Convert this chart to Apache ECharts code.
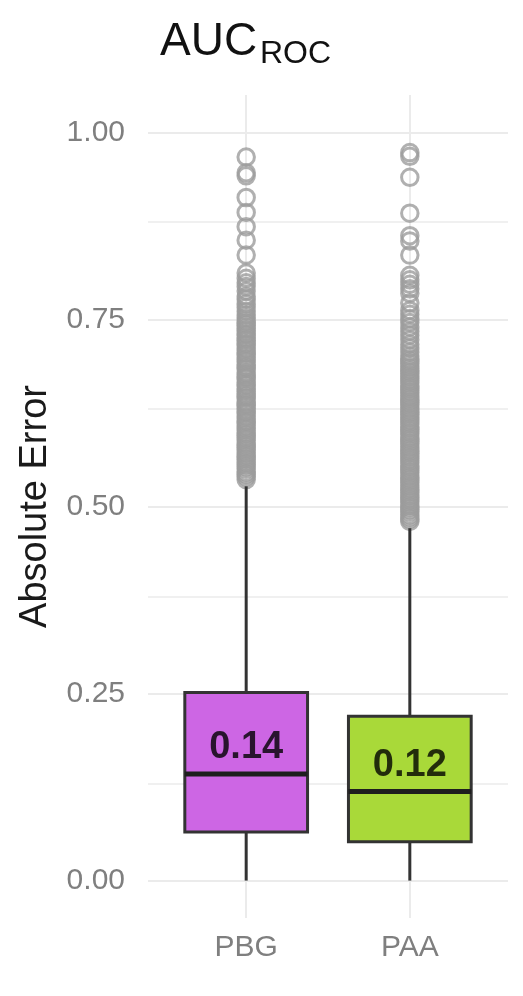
<!DOCTYPE html>
<html><head><meta charset="utf-8">
<script src="https://cdn.jsdelivr.net/npm/echarts@6/dist/echarts.min.js"></script>
<style>html,body{margin:0;padding:0;background:#fff}#c{width:523px;height:996px}</style>
</head><body><div id="c"></div>
<script>
// ---- data ----
const categories = ['PBG', 'PAA'];
const whiskerLow = [0.0, 0.0];
const q1 = [0.065, 0.052];
const median = [0.1426, 0.119];
const q3 = [0.2515, 0.2195];
const whiskerHigh = [0.527, 0.471];
const yTicks = [0, 0.25, 0.5, 0.75, 1];
const yMinorTicks = [0.125, 0.375, 0.625, 0.875];
const outliersPBG = [
  0.967, 0.946, 0.942, 0.913, 0.893, 0.874, 0.856, 0.836,
  0.812, 0.805, 0.799, 0.794, 0.788, 0.781, 0.777, 0.771, 0.766, 0.761, 0.756, 0.752,
  0.748, 0.745, 0.742, 0.738, 0.735, 0.731, 0.729, 0.725, 0.722, 0.718, 0.716, 0.712,
  0.709, 0.705, 0.703, 0.699, 0.696, 0.693, 0.689, 0.686, 0.684, 0.679, 0.676, 0.673,
  0.671, 0.666, 0.663, 0.661, 0.657, 0.654, 0.650, 0.647, 0.645, 0.640, 0.637, 0.635,
  0.631, 0.627, 0.625, 0.621, 0.618, 0.614, 0.612, 0.608, 0.605, 0.602, 0.598, 0.595,
  0.592, 0.589, 0.585, 0.582, 0.579, 0.576, 0.572, 0.569, 0.566, 0.563, 0.559, 0.556,
  0.553, 0.550, 0.546, 0.543, 0.540, 0.536
];
const outliersPAA = [
  0.973, 0.968, 0.940, 0.892, 0.862, 0.855, 0.836, 0.809, 0.803, 0.797, 0.791, 0.785, 0.772,
  0.762, 0.757, 0.751, 0.746, 0.740, 0.734, 0.729, 0.723, 0.717, 0.712, 0.706, 0.701,
  0.697, 0.694, 0.691, 0.687, 0.684, 0.681, 0.678, 0.674, 0.671, 0.668, 0.665, 0.661,
  0.658, 0.655, 0.652, 0.648, 0.645, 0.642, 0.639, 0.636, 0.632, 0.629, 0.626, 0.623,
  0.619, 0.616, 0.613, 0.610, 0.606, 0.603, 0.600, 0.597, 0.593, 0.590, 0.587, 0.584,
  0.580, 0.577, 0.574, 0.571, 0.567, 0.564, 0.561, 0.558, 0.554, 0.551, 0.548, 0.545,
  0.541, 0.538, 0.535, 0.532, 0.528, 0.525, 0.522, 0.519, 0.515, 0.512, 0.509, 0.506,
  0.502, 0.499, 0.496, 0.493, 0.489, 0.486, 0.483, 0.480
];

// ---- styles ----
const boxColors = ['#CD66E4', '#A9D939'];
const FONT = '"Liberation Sans", Arial, Helvetica, sans-serif';
const GRID_COLOR = '#ebebeb';

const boxData = categories.map((c, i) => [i + 1, whiskerLow[i], q1[i], median[i], q3[i], whiskerHigh[i]]);
const outlierData = [];
[outliersPBG, outliersPAA].forEach((arr, i) => arr.forEach(v => outlierData.push([i + 1, v])));
const medianLabelData = categories.map((c, i) => [i + 1, median[i]]);

const chart = echarts.init(document.getElementById('c'), null, { renderer: 'canvas' });
chart.setOption({
  animation: false,
  backgroundColor: '#fff',
  grid: { left: 148, right: 15, top: 95, bottom: 78, containLabel: false },
  graphic: [
    { type: 'text', left: 160, top: 19, style: { text: 'AUC', font: '46px ' + FONT, fill: '#111' } },
    { type: 'text', left: 260, top: 38, style: { text: 'ROC', font: '32px ' + FONT, fill: '#111' } }
  ],
  xAxis: {
    type: 'value', min: 0.4, max: 2.6,
    axisLine: { show: false }, axisTick: { show: false }, splitLine: { show: false },
    axisLabel: {
      customValues: [1, 2],
      formatter: v => categories[Math.round(v) - 1] || '',
      fontSize: 30, color: '#7f7f7f', fontFamily: FONT, margin: 15
    }
  },
  yAxis: {
    type: 'value', min: -0.05, max: 1.05,
    name: 'Absolute Error', nameLocation: 'middle', nameGap: 93, nameRotate: 90,
    nameTextStyle: { fontSize: 38, color: '#1a1a1a', fontFamily: FONT },
    axisLine: { show: false }, axisTick: { show: false }, splitLine: { show: false },
    axisLabel: {
      customValues: yTicks,
      formatter: v => v.toFixed(2),
      fontSize: 30, color: '#7f7f7f', fontFamily: FONT, margin: 23
    }
  },
  series: [
    {
      type: 'scatter', z: 2,
      data: outlierData,
      symbol: 'circle', symbolSize: 16.5,
      itemStyle: { color: 'rgba(0,0,0,0)', borderColor: '#9c9c9c', borderWidth: 3 },
      silent: true,
      markLine: {
        z: 1, silent: true, symbol: 'none', label: { show: false },
        data: [
          ...yTicks.map(v => ({ yAxis: v, lineStyle: { color: GRID_COLOR, width: 2, type: 'solid' } })),
          ...yMinorTicks.map(v => ({ yAxis: v, lineStyle: { color: GRID_COLOR, width: 1.6, type: 'solid' } })),
          ...categories.map((c, i) => ({ xAxis: i + 1, lineStyle: { color: GRID_COLOR, width: 2, type: 'solid' } }))
        ]
      }
    },
    {
      type: 'custom', z: 3,
      data: boxData,
      encode: { x: 0, y: [1, 2, 3, 4, 5] },
      renderItem: function (params, api) {
        const x = api.value(0);
        const lo = api.value(1), a = api.value(2), m = api.value(3), b = api.value(4), hi = api.value(5);
        const half = 0.375;
        const pLo = api.coord([x, lo]), pA = api.coord([x, a]), pB = api.coord([x, b]);
        const pHi = api.coord([x, hi]), pM = api.coord([x, m]);
        const left = api.coord([x - half, a])[0], right = api.coord([x + half, a])[0];
        const color = boxColors[params.dataIndex];
        return {
          type: 'group', children: [
            { type: 'line', shape: { x1: pLo[0], y1: pLo[1], x2: pA[0], y2: pA[1] }, style: { stroke: '#333', lineWidth: 3 } },
            { type: 'line', shape: { x1: pB[0], y1: pB[1], x2: pHi[0], y2: pHi[1] }, style: { stroke: '#333', lineWidth: 3 } },
            { type: 'rect', shape: { x: left, y: pB[1], width: right - left, height: pA[1] - pB[1] }, style: { fill: color, stroke: '#333', lineWidth: 3 } },
            { type: 'line', shape: { x1: left, y1: pM[1], x2: right, y2: pM[1] }, style: { stroke: '#1e1e1e', lineWidth: 5 } }
          ]
        };
      }
    },
    {
      type: 'scatter', z: 4,
      data: medianLabelData,
      symbolSize: 1, itemStyle: { color: 'rgba(0,0,0,0)' },
      silent: true,
      label: {
        show: true, position: 'top', distance: 7,
        formatter: p => p.value[1].toFixed(2),
        fontSize: 38, fontWeight: 'bold', color: '#000', fontFamily: FONT
      }
    }
  ]
});
</script>
</body></html>
